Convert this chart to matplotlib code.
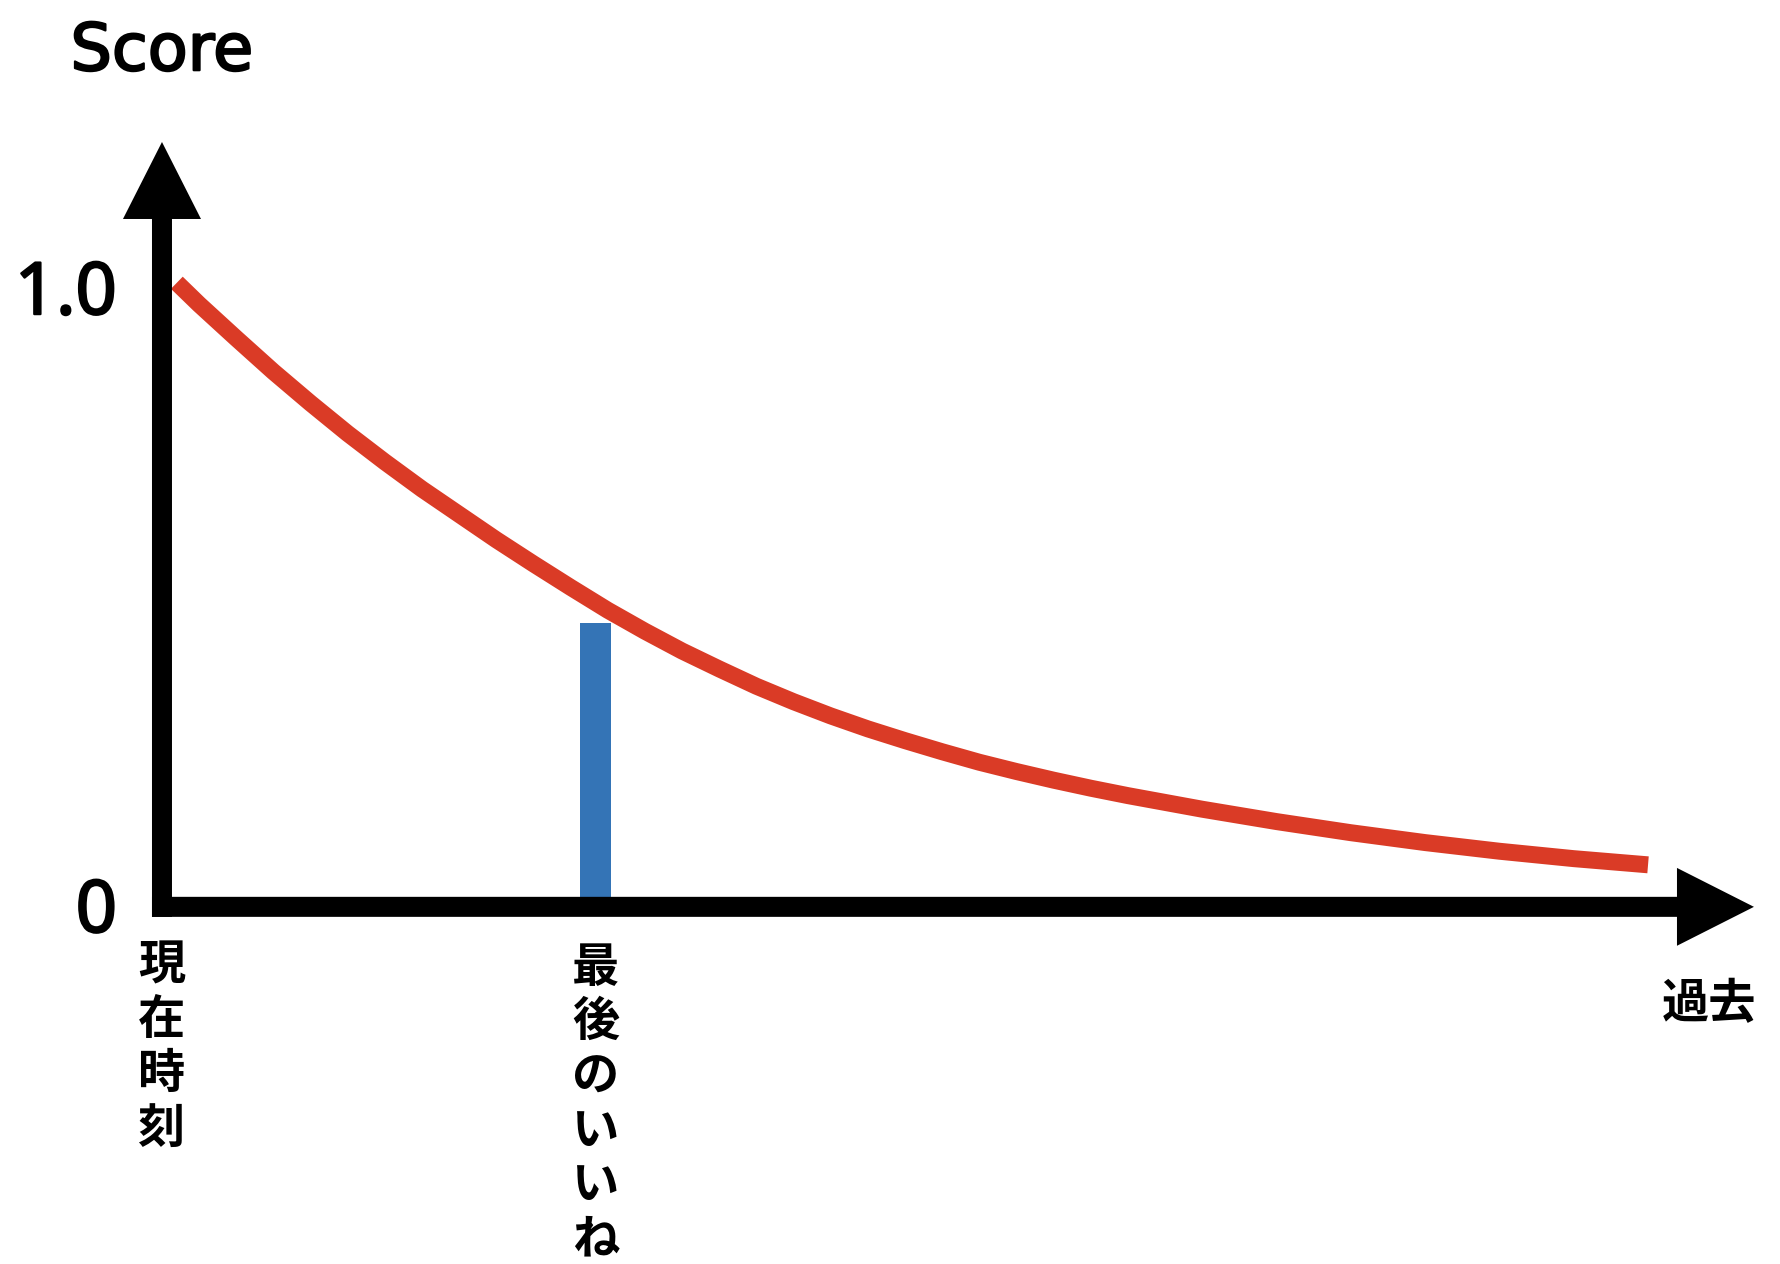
import matplotlib.pyplot as plt
import matplotlib.patheffects as pe

plt.rcParams['font.family'] = ['Noto Sans CJK JP', 'DejaVu Sans']

# time since now (arbitrary units) and decayed score
t = [1, 2.5, 5, 7.5, 10, 12.5, 15, 17.5, 20, 22.5, 25, 27.5, 30, 32.5, 35, 37.5,
     40, 42.5, 45, 47.5, 50, 52.5, 55, 57.5, 60, 62.5, 65, 67.5, 70, 72.5, 75,
     77.5, 80, 82.5, 85, 87.5, 90, 92.5, 95, 97.5, 100]
score = [1.01, 0.975, 0.92, 0.866, 0.815, 0.766, 0.72, 0.676, 0.635, 0.594,
         0.555, 0.517, 0.48, 0.446, 0.414, 0.385, 0.357, 0.332, 0.309, 0.288,
         0.269, 0.251, 0.234, 0.219, 0.205, 0.192, 0.18, 0.169, 0.158, 0.148,
         0.138, 0.129, 0.12, 0.112, 0.104, 0.097, 0.09, 0.084, 0.078, 0.073, 0.068]

# the last "like"
like_t = [29.2]
like_score = [0.46]

y_ticks = [0, 1.0]
y_tick_labels = ['0', '1.0']

fig = plt.figure(figsize=(17.8, 12.64), dpi=100)
ax = fig.add_axes([0, 0, 1, 1])
ax.set_xlim(-10.90, 108.88)
ax.set_ylim(-0.578, 1.4676)
ax.axis('off')

# bar + decay curve
ax.bar(like_t, like_score, width=2.09, color='#3474B6', zorder=2)
ax.plot(t, score, color='#DA3B26', lw=12.2, solid_capstyle='butt',
        solid_joinstyle='round', zorder=3)

# axes as thick arrows
ax.arrow(0, -0.0162, 0, 1.254, width=1.346, head_width=5.25, head_length=0.1246,
         length_includes_head=True, color='black', lw=0, zorder=4)
ax.arrow(-0.673, 0, 107.8, 0, width=0.0324, head_width=0.126, head_length=5.18,
         length_includes_head=True, color='black', lw=0, zorder=4)

bold_ish = [pe.withStroke(linewidth=1.6, foreground='black')]
ax.text(0, 1.354, 'Score', ha='center', va='baseline', fontsize=47,
        family=['DejaVu Sans'], path_effects=bold_ish)
for v, lab in zip(y_ticks, y_tick_labels):
    ax.text(-3.03, v - 0.01, lab, ha='right', va='center', fontsize=52,
            family=['Noto Sans', 'DejaVu Sans'], path_effects=bold_ish)

ax.text(0, -0.0566, '\n'.join('現在時刻'), ha='center', va='top', fontsize=34,
        fontweight='bold', linespacing=1.165)
ax.text(like_t[0], -0.06, '\n'.join('最後のいいね'), ha='center', va='top', fontsize=34,
        fontweight='bold', linespacing=1.165)
ax.text(104.1, -0.158, '過去', ha='center', va='center', fontsize=34, fontweight='bold')

fig.savefig('out.png', dpi=100)
